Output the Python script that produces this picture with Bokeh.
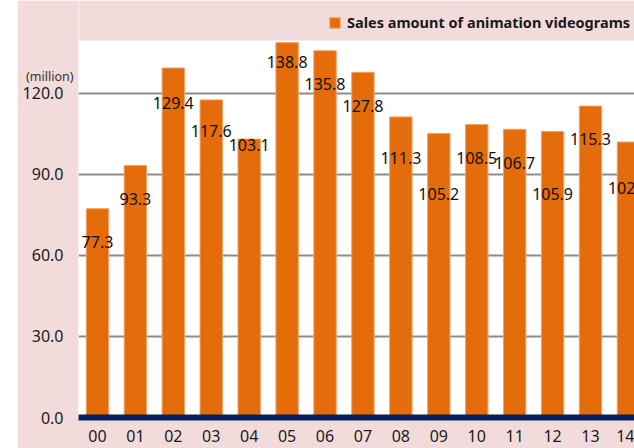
from bokeh.plotting import figure
from bokeh.layouts import row
from bokeh.models import (ColumnDataSource, Range1d, FixedTicker, Legend, LegendItem,
                          LabelSet, NumeralTickFormatter, LinearAxis, BoxAnnotation, Spacer)
from bokeh.core.properties import value
from bokeh.embed import file_html
from bokeh.resources import INLINE

# ---- data ----
years = ["00", "01", "02", "03", "04", "05", "06", "07", "08", "09", "10", "11", "12", "13", "14"]
sales = [77.3, 93.3, 129.4, 117.6, 103.1, 138.8, 135.8, 127.8, 111.3, 105.2, 108.5, 106.7, 105.9, 115.3, 102.0]
y_ticks = [0, 30, 60, 90, 120]
series_name = "Sales amount of animation videograms"
unit_text = "(million)"

# ---- style ----
label_drop_px = [33, 33, 35, 31, 6, 19, 33, 34, 41, 61, 34, 34, 63, 33, 46]  # label centre below bar top
PLOT_TOP = 139.6      # top edge of the white plotting area (value units)
UNIT_POS = 126.3      # where the unit caption sits
FONT = "Noto Sans"
PINK = "#F2DCDB"
ORANGE = "#E46C0A"
NAVY = "#002060"
TXT = "#1a1a1a"

xs = list(range(len(years)))
src = ColumnDataSource(dict(
    x=xs,
    sales=sales,
    label=[f"{v:.1f}" for v in sales],
    dy=[-d for d in label_drop_px],
))

p = figure(width=617, height=448, output_backend="svg", toolbar_location=None,
           x_range=Range1d(-0.50, 14.16), y_range=Range1d(0, 154.4),
           min_border_left=61, min_border_right=0, min_border_top=0, min_border_bottom=31)
p.background_fill_color = "white"
p.border_fill_color = PINK
p.outline_line_color = None

# pink band above the plotting area
p.add_layout(BoxAnnotation(bottom=PLOT_TOP, fill_color=PINK, fill_alpha=1,
                           line_color=None, level="underlay"))

bars = p.vbar(x="x", top="sales", bottom=0, width=0.59, source=src,
              fill_color=ORANGE, line_color="#F3A066", line_width=1)

p.add_layout(LabelSet(x="x", y="sales", text="label", y_offset="dy", source=src,
                      text_align="center", text_baseline="middle",
                      text_font=value(FONT), text_font_size="16px", text_color="#111111"))

# x axis
p.xaxis.ticker = FixedTicker(ticks=xs)
p.xaxis.major_label_overrides = {i: y for i, y in enumerate(years)}
p.xaxis.axis_line_color = NAVY
p.xaxis.axis_line_width = 6
p.xaxis.major_tick_line_color = None
p.xaxis.minor_tick_line_color = None
p.xaxis.major_tick_out = 0
p.xaxis.major_tick_in = 0
p.xaxis.major_label_standoff = 12
p.xaxis.major_label_text_font = FONT
p.xaxis.major_label_text_font_size = "16px"
p.xaxis.major_label_text_color = TXT

# inner left axis: unit caption
unit_axis = p.yaxis[0]
unit_axis.ticker = FixedTicker(ticks=[UNIT_POS])
unit_axis.major_label_overrides = {UNIT_POS: unit_text}
unit_axis.axis_line_color = None
unit_axis.major_tick_line_color = None
unit_axis.minor_tick_line_color = None
unit_axis.major_tick_out = 0
unit_axis.major_tick_in = 0
unit_axis.major_label_standoff = 5
unit_axis.major_label_text_font = FONT
unit_axis.major_label_text_font_size = "12.5px"
unit_axis.major_label_text_color = "#333333"

# outer left axis: values
val_axis = LinearAxis(ticker=FixedTicker(ticks=y_ticks),
                      formatter=NumeralTickFormatter(format="0.0"),
                      axis_line_color=None, major_tick_line_color=None,
                      minor_tick_line_color=None, major_tick_out=0, major_tick_in=0,
                      major_label_standoff=-40,
                      major_label_text_font=FONT, major_label_text_font_size="16px",
                      major_label_text_color=TXT)
p.add_layout(val_axis, "left")

p.xgrid.visible = False
p.ygrid.ticker = FixedTicker(ticks=[t for t in y_ticks if t > 0])
p.ygrid.grid_line_color = "#8C8C8C"
p.ygrid.grid_line_width = 2

legend = Legend(items=[LegendItem(label=series_name, renderers=[bars])],
                location=(250, 385), orientation="horizontal",
                background_fill_alpha=0, border_line_color=None,
                padding=0, margin=0, spacing=0,
                glyph_width=13, glyph_height=13, label_height=13, label_standoff=6,
                label_text_font=FONT, label_text_font_style="bold",
                label_text_font_size="14.5px", label_text_color=TXT)
p.add_layout(legend)

page = row(Spacer(width=17, height=448), p)
open("out.html", "w").write(file_html(page, INLINE))
